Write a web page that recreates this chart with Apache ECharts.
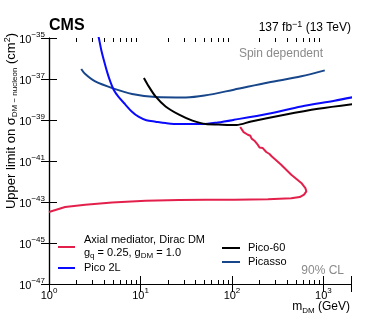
<!DOCTYPE html>
<html>
<head>
<meta charset="utf-8">
<title>CMS spin dependent limits</title>
<script src="https://cdn.jsdelivr.net/npm/echarts@6/dist/echarts.min.js"></script>
<style>
  * { margin: 0; padding: 0; box-sizing: border-box; }
  body { background: #fff; }
  #chart { width: 390px; height: 320px; }
</style>
</head>
<body>
<div id="chart"></div>
<script>
// m_DM in GeV, cross sections in cm^2
var axialMass = [1.0, 1.5, 2.49, 4.89, 11.4, 26.4, 51.8, 106, 247, 445, 550, 614, 650, 634, 573, 445, 345, 273, 257, 237, 217, 200, 191, 176, 164, 159, 149, 134, 128, 123];
var axialXsec = [3.24e-44, 5.75e-44, 7.41e-44, 9.55e-44, 1.15e-43, 1.26e-43, 1.29e-43, 1.29e-43, 1.35e-43, 1.51e-43, 1.74e-43, 2.29e-43, 3.31e-43, 4.79e-43, 8.51e-43, 2.14e-42, 6.61e-42, 1.66e-41, 2.19e-41, 2.75e-41, 4.27e-41, 4.57e-41, 6.31e-41, 9.77e-41, 1.23e-40, 1.70e-40, 1.91e-40, 2.57e-40, 2.75e-40, 4.57e-40];

var pico2lMass = [3.28, 3.50, 3.72, 4.02, 4.34, 4.68, 5.09, 5.73, 6.84, 7.96, 9.51, 11.6, 14.6, 18.8, 26.2, 48.0, 70.1, 105, 249, 573, 1321, 2138];
var pico2lXsec = [3.16e-35, 1.03e-35, 2.69e-36, 6.92e-37, 2.04e-37, 7.41e-38, 3.02e-38, 1.38e-38, 5.62e-39, 2.69e-39, 1.45e-39, 9.77e-40, 8.32e-40, 7.08e-40, 6.31e-40, 6.31e-40, 7.59e-40, 1.02e-39, 2.04e-39, 4.57e-39, 8.71e-39, 1.32e-38];

var pico60Mass = [10.9, 12.3, 14.6, 18.8, 26.4, 37.0, 51.8, 70.8, 112, 162, 376, 873, 2118];
var pico60Xsec = [1.12e-37, 4.37e-38, 1.41e-38, 4.57e-39, 1.82e-39, 9.33e-40, 6.31e-40, 6.03e-40, 5.75e-40, 8.51e-40, 1.82e-39, 3.55e-39, 6.03e-39];

var picassoMass = [2.25, 2.49, 3.20, 5.09, 8.09, 14.6, 31.3, 50.1, 105, 249, 573, 1033];
var picassoXsec = [3.09e-37, 1.74e-37, 7.59e-38, 3.39e-38, 1.86e-38, 1.32e-38, 1.26e-38, 1.55e-38, 3.02e-38, 6.76e-38, 1.35e-37, 2.63e-37];

var xMinorTicks = [2, 3, 4, 5, 6, 7, 8, 9, 20, 30, 40, 50, 60, 70, 80, 90, 200, 300, 400, 500, 600, 700, 800, 900];
var xMax = 2000;
var yExpMin = -47, yExpMax = -35;

var FONT = '"Liberation Sans", Arial, Helvetica, sans-serif';

// axes are drawn in log10 space; y is shifted so min sits on 0
function toPairs(mass, xsec) {
  var out = [];
  for (var i = 0; i < mass.length; i++) {
    out.push([Math.log10(mass[i]), Math.log10(xsec[i]) - yExpMin]);
  }
  return out;
}

var powRich = {
  b: { fontSize: 11, fontFamily: FONT, color: '#000', lineHeight: 14, verticalAlign: 'bottom' },
  s: { fontSize: 8, fontFamily: FONT, color: '#000', lineHeight: 9, verticalAlign: 'top' }
};

function lineSeries(name, data, color, smooth) {
  return {
    name: name, type: 'line', data: data, showSymbol: false, smooth: smooth,
    lineStyle: { color: color, width: 2 }, itemStyle: { color: color },
    silent: true, animation: false
  };
}

// extra x axis that only carries the log minor ticks
function minorAxis(position) {
  return {
    type: 'value', min: 0, max: Math.log10(xMax), position: position,
    axisLine: { show: false },
    axisTick: {
      show: true, inside: true, length: 4, lineStyle: { color: '#000', width: 1 },
      customValues: xMinorTicks.map(function (v) { return Math.log10(v); })
    },
    axisLabel: { show: false }, splitLine: { show: false }
  };
}

var chart = echarts.init(document.getElementById('chart'));

var textRich = {
  t: { fontSize: 11, fontFamily: FONT, color: '#000', lineHeight: 14, verticalAlign: 'middle' },
  sub: { fontSize: 8, fontFamily: FONT, color: '#000', lineHeight: 14, verticalAlign: 'bottom', padding: [5, 0, 0, 0] },
  sup: { fontSize: 8, fontFamily: FONT, color: '#000', lineHeight: 8, verticalAlign: 'top' }
};

function legendLine(x1, x2, y, color) {
  return { type: 'line', shape: { x1: x1, y1: y, x2: x2, y2: y }, style: { stroke: color, lineWidth: 2 }, silent: true };
}
function legendText(x, y, text) {
  return { type: 'text', x: x, y: y, style: { text: text, rich: textRich, fill: '#000', font: '11px ' + FONT, align: 'left', verticalAlign: 'middle' }, silent: true };
}

var option = {
  animation: false,
  backgroundColor: '#fff',
  grid: { left: 49, right: 39, top: 38, bottom: 36 },
  xAxis: [{
    type: 'value', min: 0, max: Math.log10(xMax), interval: 1, position: 'bottom',
    axisLine: { show: true, lineStyle: { color: '#000', width: 1.2 } },
    axisTick: { show: true, inside: true, length: 8, lineStyle: { color: '#000' } },
    axisLabel: {
      margin: 3, rich: powRich,
      formatter: function (v) {
        if (Math.abs(v - Math.round(v)) > 1e-6) return '';
        return '{b|10}{s|' + Math.round(v) + '}';
      }
    },
    splitLine: { show: false }
  }, {
    type: 'value', min: 0, max: Math.log10(xMax), interval: 1, position: 'top',
    axisLine: { show: true, lineStyle: { color: '#000', width: 1.2 } },
    axisTick: { show: true, inside: true, length: 8, lineStyle: { color: '#000' } },
    axisLabel: { show: false }, splitLine: { show: false }
  }, minorAxis('bottom'), minorAxis('top')],
  yAxis: [{
    type: 'value', min: 0, max: yExpMax - yExpMin, interval: 2, position: 'left',
    axisLine: { show: true, lineStyle: { color: '#222', width: 1.2 } },
    axisTick: { show: true, inside: true, length: 8, lineStyle: { color: '#000' } },
    axisLabel: {
      margin: 4, rich: powRich,
      formatter: function (v) { return '{b|10}{s|\u2212' + Math.abs(Math.round(v) + yExpMin) + '}'; }
    },
    splitLine: { show: false }
  }, {
    type: 'value', min: 0, max: yExpMax - yExpMin, interval: 2, position: 'right',
    axisLine: { show: true, lineStyle: { color: '#000', width: 1.2 } },
    axisTick: { show: true, inside: true, length: 8, lineStyle: { color: '#000' } },
    axisLabel: { show: false }, splitLine: { show: false }
  }],
  series: [
    lineSeries('Picasso', toPairs(picassoMass, picassoXsec), '#17468a', 0.3),
    lineSeries('Pico 2L', toPairs(pico2lMass, pico2lXsec), '#0a0aff', 0.3),
    lineSeries('Pico-60', toPairs(pico60Mass, pico60Xsec), '#000000', 0.3),
    lineSeries('Axial mediator, Dirac DM', toPairs(axialMass, axialXsec), '#e3204b', false)
  ],
  graphic: [
    { type: 'text', x: 49, y: 34, style: { text: 'CMS', font: 'bold 16px ' + FONT, fill: '#000', align: 'left', verticalAlign: 'bottom' } },
    { type: 'text', x: 351, y: 35, style: {
      text: '{t|137 fb}{sup|\u22121}{t| (13 TeV)}', align: 'right', verticalAlign: 'bottom',
      rich: {
        t: { fontSize: 12, fontFamily: FONT, color: '#000', lineHeight: 15, verticalAlign: 'middle' },
        sup: { fontSize: 9, fontFamily: FONT, color: '#000', lineHeight: 9, verticalAlign: 'top' }
      } } },
    { type: 'text', x: 323, y: 54, style: { text: 'Spin dependent', font: '12px ' + FONT, fill: '#8a8a8a', align: 'right', verticalAlign: 'middle' } },
    { type: 'text', x: 344, y: 271, style: { text: '90% CL', font: '12px ' + FONT, fill: '#8a8a8a', align: 'right', verticalAlign: 'middle' } },
    { type: 'text', x: 350, y: 307, style: {
      text: '{m|m}{sub|DM}{m| (GeV)}', align: 'right', verticalAlign: 'middle',
      rich: {
        m: { fontSize: 12, fontFamily: FONT, color: '#000', lineHeight: 15, verticalAlign: 'middle' },
        sub: { fontSize: 8, fontFamily: FONT, color: '#000', lineHeight: 15, verticalAlign: 'bottom', padding: [5, 0, 0, 0] }
      } } },
    { type: 'text', x: 11, y: 33, rotation: Math.PI / 2, style: {
      text: '{m|Upper limit on \u03c3}{sub|DM \u2212 nucleon}{m| (cm}{sup|2}{m|)}', align: 'right', verticalAlign: 'middle',
      rich: {
        m: { fontSize: 13, fontFamily: FONT, color: '#000', lineHeight: 16, verticalAlign: 'middle' },
        sub: { fontSize: 8, fontFamily: FONT, color: '#000', lineHeight: 16, verticalAlign: 'bottom', padding: [5, 0, 0, 0] },
        sup: { fontSize: 9, fontFamily: FONT, color: '#000', lineHeight: 9, verticalAlign: 'top' }
      } } },
    legendLine(58, 75, 247, '#e3204b'),
    legendText(84, 240, '{t|Axial mediator, Dirac DM}'),
    legendText(84, 253, '{t|g}{sub|q}{t| = 0.25, g}{sub|DM}{t| = 1.0}'),
    legendLine(58, 75, 268, '#0a0aff'),
    legendText(84, 268, '{t|Pico 2L}'),
    legendLine(222, 240, 248, '#000000'),
    legendText(248, 248, '{t|Pico-60}'),
    legendLine(222, 240, 262, '#17468a'),
    legendText(248, 262, '{t|Picasso}')
  ]
};

chart.setOption(option);
</script>
</body>
</html>
